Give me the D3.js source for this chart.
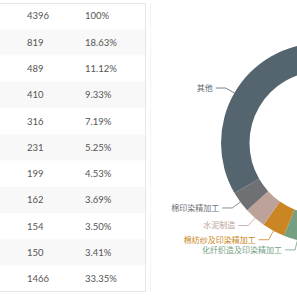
<!DOCTYPE html>
<html>
<head>
<meta charset="utf-8">
<script src="https://cdn.jsdelivr.net/npm/d3@7"></script>
<style>
  html, body { margin: 0; padding: 0; background: #fff; }
  svg { display: block; }
</style>
</head>
<body>
<svg id="canvas" width="297" height="297"></svg>
<script>
// table rows (first row is the total)
const counts = [4396, 819, 489, 410, 316, 231, 199, 162, 154, 150, 1466];
const pctLabels = ['100%', '18.63%', '11.12%', '9.33%', '7.19%', '5.25%', '4.53%', '3.69%', '3.50%', '3.41%', '33.35%'];

// pie slices (names only known for the visible ones)
const sliceValues = [819, 489, 410, 316, 231, 199, 162, 154, 150, 1466];
const sliceNames = ['', '', '', '', '', '化纤织造及印染精加工', '棉纺纱及印染精加工', '水泥制造', '棉印染精加工', '其他'];
const palette = ['#c23531', '#2f4554', '#61a0a8', '#d48265', '#91c7ae', '#749f83', '#ca8622', '#bda29a', '#6e7074', '#546570'];

const svg = d3.select('#canvas');

// --- table ---
const table = svg.append('g').attr('class', 'table');
const rowY = d3.scaleBand().domain(d3.range(counts.length)).range([3, 292]);

table.selectAll('rect.row')
  .data(counts)
  .join('rect')
    .attr('class', 'row')
    .attr('x', 0)
    .attr('y', (d, i) => rowY(i))
    .attr('width', 145)
    .attr('height', rowY.bandwidth())
    .attr('fill', (d, i) => i % 2 ? '#f8f8f8' : '#fff');

table.selectAll('text.cnt')
  .data(counts)
  .join('text')
    .attr('class', 'cnt')
    .attr('x', 27)
    .attr('y', (d, i) => rowY(i) + rowY.bandwidth() / 2)
    .attr('dy', '0.35em')
    .attr('font-family', 'Lato, sans-serif')
    .attr('font-size', 9.5)
    .attr('fill', '#555')
    .text(d => d);

table.selectAll('text.pct')
  .data(pctLabels)
  .join('text')
    .attr('class', 'pct')
    .attr('x', 85)
    .attr('y', (d, i) => rowY(i) + rowY.bandwidth() / 2)
    .attr('dy', '0.35em')
    .attr('font-family', 'Lato, sans-serif')
    .attr('font-size', 9.5)
    .attr('fill', '#555')
    .text(d => d);

// borders
table.append('line').attr('x1', 0).attr('x2', 145).attr('y1', 3.5).attr('y2', 3.5).attr('stroke', '#e6e6e6');
table.append('line').attr('x1', 0).attr('x2', 145).attr('y1', 291.5).attr('y2', 291.5).attr('stroke', '#e6e6e6');
table.append('line').attr('x1', 145.5).attr('x2', 145.5).attr('y1', 3).attr('y2', 292).attr('stroke', '#e6e6e6');
table.append('line').attr('x1', 150.5).attr('x2', 150.5).attr('y1', 3).attr('y2', 292).attr('stroke', '#f3f3f3');

// --- donut ---
const cx = 321, cy = 143, rOuter = 100, rInner = 71.5;
const color = d3.scaleOrdinal().domain(d3.range(sliceValues.length)).range(palette);
const pie = d3.pie().sort(null).value(d => d);
const arcs = pie(sliceValues);
const arc = d3.arc().innerRadius(rInner).outerRadius(rOuter);

const donut = svg.append('g').attr('transform', `translate(${cx},${cy})`);

donut.selectAll('path')
  .data(arcs)
  .join('path')
    .attr('d', arc)
    .attr('fill', (d, i) => color(i));

// labels with leader lines
const len1 = 10, len2 = 10;
const labelled = arcs.map((d, i) => ({ d, i, name: sliceNames[i] })).filter(o => o.name);

labelled.forEach(o => {
  const a = (o.d.startAngle + o.d.endAngle) / 2;
  const dx = Math.sin(a), dy = -Math.cos(a);
  const p0 = [dx * rOuter, dy * rOuter];
  const p1 = [dx * (rOuter + len1), dy * (rOuter + len1)];
  const side = dx < 0 ? -1 : 1;
  const p2 = [p1[0] + side * len2, p1[1]];
  const c = color(o.i);

  donut.append('polyline')
    .attr('points', [p0, p1, p2].map(p => p.join(',')).join(' '))
    .attr('fill', 'none')
    .attr('stroke', c)
    .attr('stroke-width', 0.8);

  donut.append('text')
    .attr('x', p2[0] + side * 3)
    .attr('y', p2[1])
    .attr('dy', '0.35em')
    .attr('text-anchor', side < 0 ? 'end' : 'start')
    .attr('font-family', '"Noto Sans CJK SC", sans-serif')
    .attr('font-size', 8)
    .attr('fill', c)
    .text(o.name);
});
</script>
</body>
</html>
